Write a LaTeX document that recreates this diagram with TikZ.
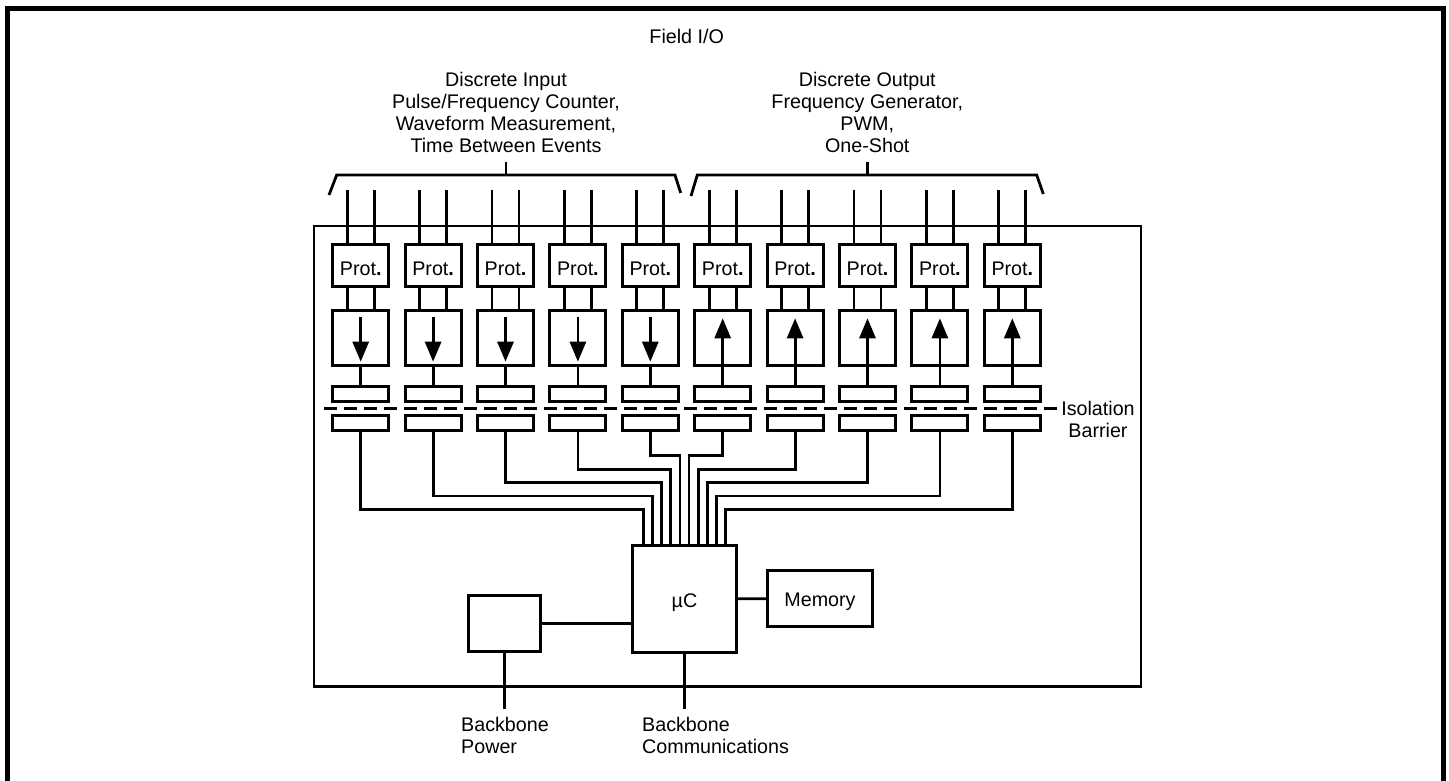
\documentclass[tikz,border=0pt]{standalone}
\usepackage{fontspec}
\setmainfont{Liberation Sans}
\usetikzlibrary{arrows.meta}
\begin{document}
\fontsize{19.7}{22}\selectfont
\begin{tikzpicture}[x=1pt,y=-1pt,
  every node/.style={font=\fontsize{19.7}{22}\selectfont, inner sep=0pt, outer sep=0pt},
  wire/.style={line width=2.8pt},
  box/.style={draw, line width=3pt, minimum width=56pt},
  protbox/.style={box, minimum height=41.7pt, text height=19.8pt, text depth=0pt},
  dirbox/.style={box, minimum height=54.7pt},
  isobox/.style={box, minimum height=15.2pt},
  arr/.style={line width=2.8pt, -{Triangle[width=16pt,length=20pt]}},
  txt/.style={align=center, anchor=north},
  ltxt/.style={align=left, anchor=north west}
]
\useasboundingbox (0,0) rectangle (1449,781);
\draw[line width=5pt] (7.5,790) -- (7.5,8.5) -- (1443.5,8.5) -- (1443.5,790);

% module outline
\node[draw, line width=2.6pt, minimum width=827pt, minimum height=460.5pt] (module) at (727.5,456.25) {};

% texts at top
\node[anchor=base] (fio) at (686.7,43.3) {Field I/O};
\node[txt] (dintxt) at (506,72.5) {Discrete Input\\Pulse/Frequency Counter,\\Waveform Measurement,\\Time Between Events};
\node[txt] (douttxt) at (867.3,72.5) {Discrete Output\\Frequency Generator,\\PWM,\\One-Shot};

% braces
\draw[wire] (329,195) -- (336.7,175) -- (675,175) -- (680.7,193);
\draw[wire] (506,161.7) -- (506,175);
\draw[wire] (691,196) -- (697.3,175) -- (1036.7,175) -- (1043.3,194);
\draw[wire] (867.3,161.7) -- (867.3,175);

% microcontroller, memory, power
\node[draw, line width=3pt, minimum width=104.5pt, minimum height=107.3pt, text height=17.4pt, text depth=0pt] (mc) at (684.5,598.7) {µC};
\node[draw, line width=3pt, minimum width=104.6pt, minimum height=55.7pt, text height=14.6pt, text depth=0pt] (mem) at (820,598.8) {Memory};
\node[draw, line width=3pt, minimum width=72.4pt, minimum height=56pt] (pw) at (504.5,623.7) {};
\draw[wire] (mc.east) -- (mem.west);
\draw[wire] (pw.east) -- (pw.east -| mc.west);
\coordinate (bp) at (504.5,709);
\coordinate (bc) at (684.5,709);
\draw[wire] (pw.south) -- (bp);
\draw[wire] (mc.south) -- (bc);
\node[ltxt] (bptxt) at (461.2,717.5) {Backbone\\Power};
\node[ltxt] (bctxt) at (642.2,717.5) {Backbone\\Communications};

% channels
\foreach \i in {0,...,9} {
  \pgfmathsetmacro\cx{360.7+72.4*\i}
  \node[protbox] (p\i) at (\cx,265.2) {Prot\textbf{.}};
  \node[dirbox] (a\i) at (\cx,338.3) {};
  \node[isobox] (u\i) at (\cx,394.2) {};
  \node[isobox] (l\i) at (\cx,422.8) {};
  \coordinate (tl\i) at (\cx-13.5,190);
  \coordinate (tr\i) at (\cx+13.5,190);
  \draw[wire] (tl\i) -- (tl\i |- p\i.north);
  \draw[wire] (tr\i) -- (tr\i |- p\i.north);
  \draw[wire] (tl\i |- p\i.south) -- (tl\i |- a\i.north);
  \draw[wire] (tr\i |- p\i.south) -- (tr\i |- a\i.north);
  \pgfmathsetmacro\lev{\i<5 ? 455.7+13.4*(4-\i) : 455.7+13.4*(\i-5)}
  \pgfmathsetmacro\xk{643.3+9.15*\i}
  \coordinate (d\i) at (\xk,\lev);
  \draw[wire] (l\i.south) |- (d\i) -- (d\i |- mc.north);
}
\foreach \i in {0,...,4} {
  \draw[arr] (a\i.north |- 0,316.7) -- (a\i.north |- 0,361.7);
  \draw[wire] (a\i.south) -- (u\i.north);
}
\foreach \i in {5,...,9} {
  \draw[arr] (u\i.north) -- (u\i.north |- 0,318.3);
}

% isolation barrier
\coordinate (isoL) at (324,408.3);
\coordinate (isoR) at (1057,408.3);
\draw[line width=3pt, dash pattern=on 13.3pt off 6.7pt] (isoL) -- (isoR);
\node[txt] (isotxt) at (1098,400.8) {Isolation\\Barrier};
\end{tikzpicture}
\end{document}
